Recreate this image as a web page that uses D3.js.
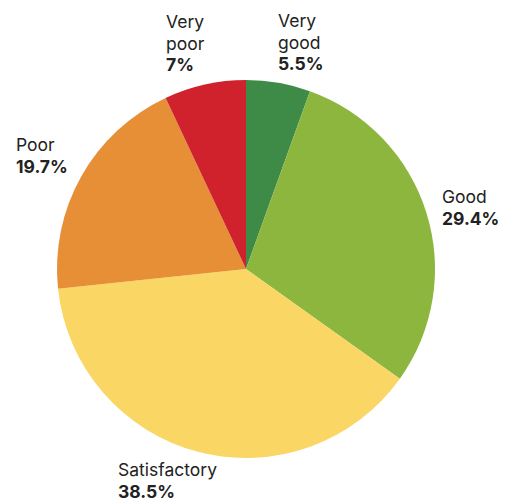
<!DOCTYPE html>
<html><head><meta charset="utf-8">
<script src="https://cdn.jsdelivr.net/npm/d3@7"></script>
<style>body{margin:0;background:#fff}</style>
</head><body><svg id="c" width="506" height="503"></svg>
<script>
const categories = ["Very good","Good","Satisfactory","Poor","Very poor"];
const values = [5.5, 29.4, 38.5, 19.7, 7];
const valueLabels = ["5.5%","29.4%","38.5%","19.7%","7%"];
const colors = ["#3e8b48","#8db63f","#fad664","#e68f36","#d0222d"];
// label anchor positions (text layout only)
const labelPos = [[278,27,["Very","good"]],[442,203,["Good"]],[118,476,["Satisfactory"]],[16,151,["Poor"]],[166,28,["Very","poor"]]];

const svg = d3.select("#c");
const cx = 246, cy = 269, r = 189;
const pie = d3.pie().sort(null).value(d=>d)(values);
const arc = d3.arc().innerRadius(0).outerRadius(r);
const g = svg.append("g").attr("transform",`translate(${cx},${cy})`);
g.selectAll("path").data(pie).join("path")
  .attr("d",arc).attr("fill",(d,i)=>colors[i]);

const font = "Inter, 'Noto Sans', sans-serif";
labelPos.forEach(([x,y,lines],i)=>{
  const t = svg.append("text").attr("x",x).attr("y",y)
    .attr("font-family",font).attr("font-size",17.5).attr("fill","#222");
  lines.forEach((l,j)=>t.append("tspan").attr("x",x).attr("dy",j===0?0:21.5).text(l));
  t.append("tspan").attr("x",x).attr("dy",21.5).attr("font-weight","bold").text(valueLabels[i]);
});
</script></body></html>
